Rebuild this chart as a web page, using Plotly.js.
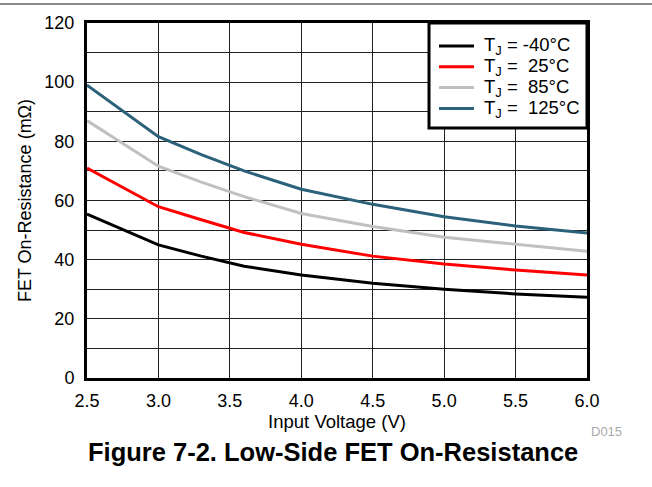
<!DOCTYPE html>
<html>
<head>
<meta charset="utf-8">
<script src="https://cdn.plot.ly/plotly-3.0.1.min.js"></script>
<style>html,body{margin:0;padding:0;background:#fff;}</style>
</head>
<body>
<div id="chart" style="width:652px;height:487px;"></div>
<script>
const inputVoltage = [2.5, 3.0, 3.3, 3.6, 4.0, 4.5, 5.0, 5.5, 6.0];
const rdsMinus40 = [55.4, 45.0, 41.2, 37.8, 34.8, 32.0, 30.0, 28.4, 27.3];
const rds25 = [71.0, 57.9, 53.5, 49.2, 45.2, 41.2, 38.5, 36.5, 34.8];
const rds85 = [87.0, 71.6, 66.2, 61.3, 55.6, 51.2, 47.6, 45.2, 42.8];
const rds125 = [99.0, 81.6, 75.5, 70.0, 63.8, 58.7, 54.5, 51.4, 49.0];
const seriesNames = ['T<sub>J</sub> = -40°C', 'T<sub>J</sub> =\u00A0 25°C', 'T<sub>J</sub> =\u00A0 85°C', 'T<sub>J</sub> =\u00A0 125°C'];
const xTickVals = [2.5, 3.0, 3.5, 4.0, 4.5, 5.0, 5.5, 6.0];
const xTickText = ['2.5', '3.0', '3.5', '4.0', '4.5', '5.0', '5.5', '6.0'];

const font = 'Liberation Sans, Arial, Helvetica, sans-serif';
const colors = ['#000000', '#ff0000', '#c0c0c0', '#2b6179'];
const ys = [rdsMinus40, rds25, rds85, rds125];
const traces = ys.map((y, i) => ({
  x: inputVoltage, y: y, type: 'scatter', mode: 'lines',
  name: seriesNames[i], line: {color: colors[i], width: 3}, showlegend: false
}));

// custom legend (box, samples, labels)
const legRowY = [0.935, 0.877, 0.818, 0.759];
const shapes = [
  {type: 'line', xref: 'paper', yref: 'paper', x0: -0.174, x1: 1.13, y0: 1.0535, y1: 1.0535,
   line: {color: '#888', width: 2}},
  {type: 'rect', xref: 'paper', yref: 'paper', x0: 0.684, x1: 1.0, y0: 0.704, y1: 1.0,
   fillcolor: '#fff', line: {color: '#000', width: 3}, layer: 'above'}
];
const annotations = [
  {text: 'D015', xref: 'paper', yref: 'paper', x: 1.038, y: -0.152, xanchor: 'center', yanchor: 'middle',
   showarrow: false, font: {family: font, size: 13, color: '#aaa'}},
  {text: '<b>Figure 7-2. Low-Side FET On-Resistance</b>', xref: 'paper', yref: 'paper', x: 0.492, y: -0.208,
   xanchor: 'center', yanchor: 'middle', showarrow: false, font: {family: font, size: 25.5, color: '#000'}}
];
seriesNames.forEach((n, i) => {
  shapes.push({type: 'line', xref: 'paper', yref: 'paper', x0: 0.704, x1: 0.774, y0: legRowY[i], y1: legRowY[i],
    line: {color: colors[i], width: 3}, layer: 'above'});
  annotations.push({text: n, xref: 'paper', yref: 'paper', x: 0.790, y: legRowY[i], xanchor: 'left', yanchor: 'middle',
    showarrow: false, font: {family: font, size: 18.5, color: '#000'}});
});

const layout = {
  width: 652, height: 487,
  margin: {l: 87, r: 65, t: 23, b: 109},
  paper_bgcolor: '#fff', plot_bgcolor: '#fff',
  font: {family: font, size: 18, color: '#000'},
  showlegend: false,
  xaxis: {
    range: [2.5, 6.0], tickvals: xTickVals, ticktext: xTickText,
    showgrid: true, gridcolor: '#222', gridwidth: 1,
    showline: true, linecolor: '#000', linewidth: 3, mirror: true,
    ticks: '', zeroline: false, ticklabelstandoff: 4,
    tickfont: {family: font, size: 18, color: '#000'},
    title: {text: 'Input Voltage (V)', font: {family: font, size: 18.5, color: '#000'}, standoff: 3}
  },
  yaxis: {
    range: [0, 120], dtick: 20, tick0: 0,
    showgrid: true, gridcolor: '#222', gridwidth: 1,
    minor: {dtick: 10, showgrid: true, gridcolor: '#222', gridwidth: 1, ticks: ''},
    showline: true, linecolor: '#000', linewidth: 3, mirror: true,
    ticks: '', zeroline: false, ticklabelstandoff: 6,
    tickfont: {family: font, size: 18, color: '#000'},
    title: {text: 'FET On-Resistance (mΩ)', font: {family: font, size: 18, color: '#000'}, standoff: 9}
  },
  shapes: shapes,
  annotations: annotations
};

Plotly.newPlot('chart', traces, layout, {displayModeBar: false, staticPlot: true});
</script>
</body>
</html>
